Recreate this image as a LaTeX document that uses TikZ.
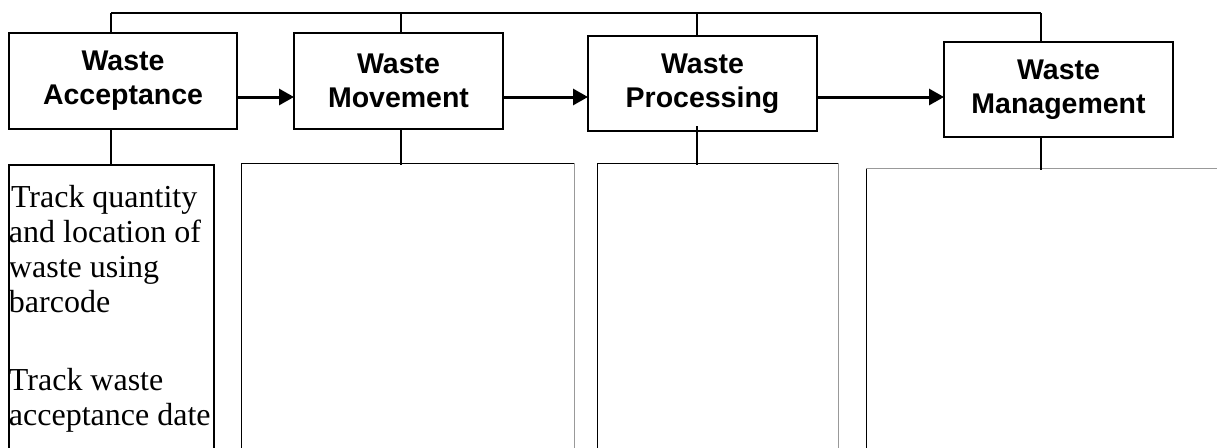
\documentclass[tikz,border=0pt]{standalone}
\usepackage{fontspec}
\setmainfont{Liberation Serif}
\newfontfamily\hfont{Liberation Sans}
\usetikzlibrary{arrows.meta}
\begin{document}
\begin{tikzpicture}[x=1pt,y=-1pt,
  head/.style={draw,line width=2pt,inner sep=0pt,outer sep=0pt,align=center,
    font=\hfont\bfseries\fontsize{28.5}{34}\selectfont},
  lowbox/.style={draw,line width=1pt,inner sep=0pt,outer sep=0pt,anchor=north west},
  bus/.style={line width=2.6pt},
  drop/.style={line width=1.5pt},
  arr/.style={line width=3pt,-{Triangle[length=15pt,width=16pt]}},
  edgegray/.style={draw=black!40,line width=1pt}]
\useasboundingbox (0,0) rectangle (1217,447);
\clip (0,0) rectangle (1217,447);

% header boxes
\node[head,minimum width=228pt,minimum height=96pt] (acc) at (123,81) {Waste\\Acceptance};
\node[head,minimum width=209pt,minimum height=96pt] (mov) at (398.5,81) {Waste\\Movement};
\node[head,minimum width=229pt,minimum height=95pt] (pro) at (702.5,83.5) {Waste\\Processing};
\node[head,minimum width=229pt,minimum height=95pt] (man) at (1058.5,89.5) {Waste\\Management};

% lower boxes
\node[lowbox,line width=2pt] (d1) at (9,165) {%
  \begin{minipage}[t][300pt][t]{205pt}\fontsize{32}{35}\selectfont\raggedright
  \hspace*{2pt}\rule{0pt}{42pt}Track quantity\\
  and location of\\
  waste using\\
  barcode\\[43pt]
  Track waste\\
  acceptance date
  \end{minipage}};
\node[lowbox,minimum width=333pt,minimum height=300pt] (d2) at (241,163) {};
\node[lowbox,minimum width=241pt,minimum height=300pt] (d3) at (597,163) {};
\node[lowbox,minimum width=400pt,minimum height=300pt] (d4) at (866,168) {};
\draw[edgegray] (d2.north east) -- (d2.south east);
\draw[edgegray] (d3.north east) -- (d3.south east);
\draw[edgegray] (d4.north west) -- (d4.north east);

% top bus
\coordinate (b1) at (111,13);
\coordinate (b2) at (401,13);
\coordinate (b3) at (697,13);
\coordinate (b4) at (1041,13);
\draw[bus] (b1) -- (b4);
\draw[drop] (b1) -- (b1 |- acc.north);
\draw[drop] (b2) -- (b2 |- mov.north);
\draw[drop] (b3) -- (b3 |- pro.north);
\draw[drop] (b4) -- (b4 |- man.north);

% drops to lower boxes
\draw[drop] (acc.south -| b1) -- (d1.north -| b1);
\draw[drop] (mov.south -| b2) -- ([yshift=-2pt]d2.north -| b2);
\draw[drop] ([yshift=5pt]pro.south -| b3) -- ([yshift=-2pt]d3.north -| b3);
\draw[drop] (man.south -| b4) -- ([yshift=-2pt]d4.north -| b4);

% arrows
\draw[arr] ([yshift=-16pt]acc.east) -- ([yshift=-16pt]acc.east -| mov.west);
\draw[arr] ([yshift=-16pt]mov.east) -- ([yshift=-16pt]mov.east -| pro.west);
\draw[arr] ([yshift=-13.5pt]pro.east) -- ([yshift=-13.5pt]pro.east -| man.west);
\end{tikzpicture}
\end{document}
